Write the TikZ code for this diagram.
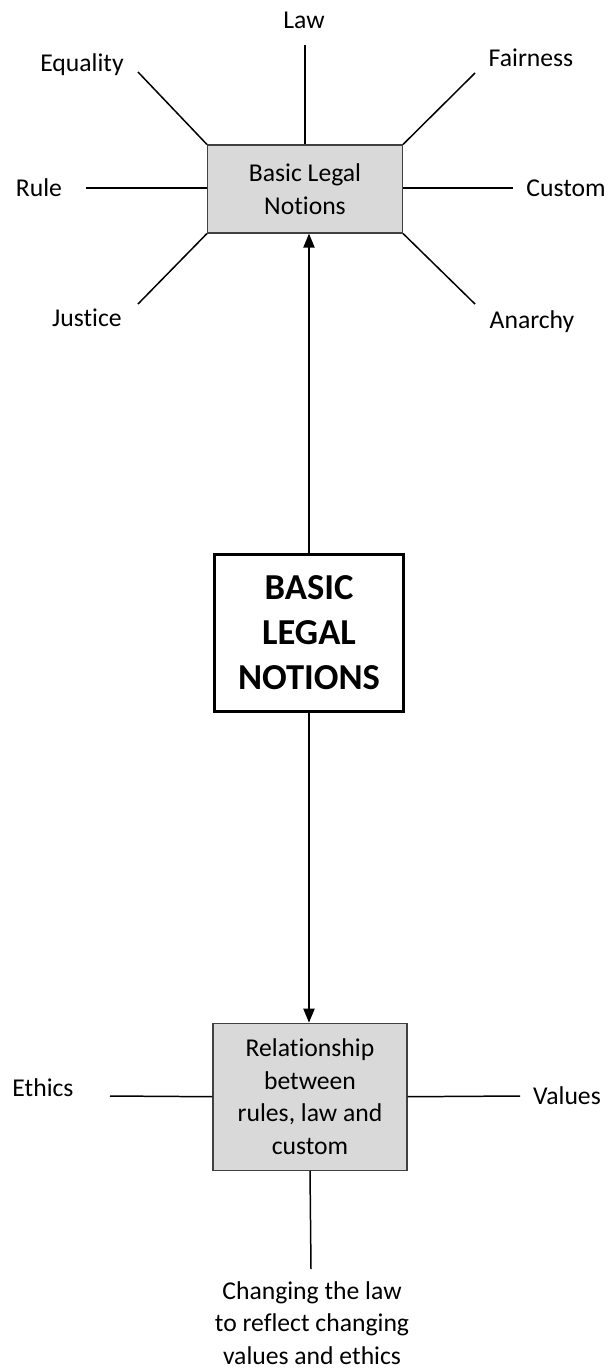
\documentclass[tikz,border=0pt]{standalone}
\usepackage{fontspec}
\setmainfont{Carlito}[Ligatures=NoCommon]
\usetikzlibrary{positioning, arrows.meta}
\definecolor{hubgray}{HTML}{D9D9D9}

\begin{document}
\begin{tikzpicture}[
  hub/.style={draw=black!75, fill=hubgray, line width=0.6pt, align=center,
              font=\fontsize{14.6}{18.5}\selectfont, inner sep=2pt},
  core/.style={draw, line width=1.8pt, fill=white, align=center,
               minimum width=3.78cm, minimum height=3.14cm,
               font=\fontsize{20.8}{25.6}\selectfont\bfseries},
  leaf/.style={align=center, font=\fontsize{14.6}{18.5}\selectfont, inner sep=1pt},
  spoke/.style={line width=0.85pt},
  arr/.style={-{Triangle[length=0.28cm, width=0.22cm]}, line width=1.1pt},
]
\useasboundingbox (0,0) rectangle (12.22,-27.36);

% Top hub
\node[hub, minimum width=3.9cm, minimum height=1.76cm] (notions) at (6.10,-3.78) {Basic Legal\\Notions};

% Central box
\node[core, below=6.38cm of notions, xshift=0.08cm] (main) {BASIC\\LEGAL\\NOTIONS};

% Bottom hub
\node[hub, minimum width=3.88cm, minimum height=2.94cm, below=6.2cm of main, xshift=0.02cm] (relation)
   {Relationship\\between\\rules, law and\\custom};

% Arrows
\draw[arr] (main.north) -- (main.north |- notions.south);
\draw[arr] (main.south) -- (main.south |- relation.north);

% Spoke ends
\coordinate (lawEnd) at (6.10,-0.90);
\coordinate (equalityEnd) at (2.76,-1.44);
\coordinate (fairnessEnd) at (9.50,-1.46);
\coordinate (ruleEnd) at (1.72,-3.76);
\coordinate (customEnd) at (10.26,-3.76);
\coordinate (justiceEnd) at (2.76,-6.08);
\coordinate (anarchyEnd) at (9.50,-6.08);
\coordinate (ethicsEnd) at (2.20,-21.92);
\coordinate (valuesEnd) at (10.40,-21.92);
\coordinate (changeEnd) at (6.22,-25.38);

% Spokes round the top hub
\draw[spoke] (notions.north) -- (lawEnd);
\draw[spoke] (notions.north west) -- (equalityEnd);
\draw[spoke] (notions.north east) -- (fairnessEnd);
\draw[spoke] (notions.west |- ruleEnd) -- (ruleEnd);
\draw[spoke] (notions.east |- customEnd) -- (customEnd);
\draw[spoke] (notions.south west) -- (justiceEnd);
\draw[spoke] (notions.south east) -- (anarchyEnd);

% Spokes round the bottom hub
\draw[spoke] (relation.west) -- (ethicsEnd);
\draw[spoke] (relation.east) -- (valuesEnd);
\draw[spoke] (relation.south) -- (changeEnd);

% Labels
\node[leaf] (law) at (6.08,-0.40) {Law};
\node[leaf] (equality) at (1.64,-1.30) {Equality};
\node[leaf] (fairness) at (10.62,-1.16) {Fairness};
\node[leaf] (rule) at (0.78,-3.76) {Rule};
\node[leaf] (custom) at (11.32,-3.76) {Custom};
\node[leaf] (justice) at (1.74,-6.36) {Justice};
\node[leaf] (anarchy) at (10.64,-6.44) {Anarchy};
\node[leaf] (ethics) at (0.86,-21.76) {Ethics};
\node[leaf] (values) at (11.34,-21.92) {Values};
\node[leaf] (change) at (6.24,-26.46) {Changing the law\\to reflect changing\\values and ethics};

\end{tikzpicture}
\end{document}
